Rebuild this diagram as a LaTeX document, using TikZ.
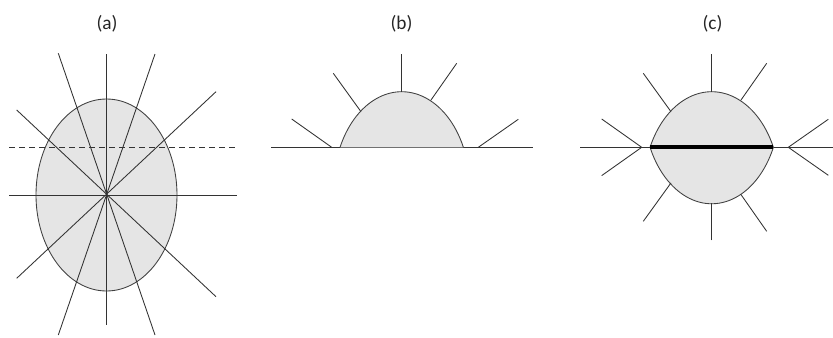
\documentclass[tikz,border=0pt]{standalone}
\usepackage{fontspec}
\setmainfont{Carlito}
\begin{document}
\begin{tikzpicture}[x=0.75pt,y=0.75pt,
  ln/.style={draw=black!80,line width=0.65pt},
  shapefill/.style={fill=black!10,draw=black!75,line width=0.65pt},
  lbl/.style={font=\fontsize{14.5}{17}\selectfont,text=black!85,inner sep=0pt}]
\useasboundingbox (0,0) rectangle (833,337);
% ---------- labels ----------
\node[lbl] (la) at (107,313) {(a)};
\node[lbl] (lb) at (401.5,313) {(b)};
\node[lbl] (lc) at (712.5,313) {(c)};
% ---------- (a) ----------
\coordinate (ca) at (106.5,142);
\path[shapefill] (ca) ellipse[x radius=70.5,y radius=96];
\draw[ln] (9,142) -- (237,142);
\draw[ln] (106.5,283) -- (106.5,12);
\draw[ln,dash pattern=on 4.5pt off 3pt] (9,190) -- (237,190);
\draw[ln] (58.3,283.7) -- (155,2);
\draw[ln] (155,283) -- (58.3,2);
\draw[ln] (16.7,227) -- (216,40.3);
\draw[ln] (216,245.3) -- (16.7,58.7);
% ---------- (b) ----------
\draw[ln] (271,189.7) -- (533.3,189.7);
\path[shapefill] (463.4,189.7) arc[start angle=24.9,end angle=155.1,x radius=68,y radius=96];
\draw[ln] (401.7,282.7) -- (401.7,245.3);
\draw[ln] (333.3,263.7) -- (361,225.3);
\draw[ln] (456.7,273.7) -- (431,237);
\draw[ln] (291.7,218) -- (331.7,189.7);
\draw[ln] (518.3,217.7) -- (478.3,189.7);
% ---------- (c) ----------
\draw[ln] (580,189.7) -- (833,189.7);
\path[shapefill] (773.4,189.7) arc[start angle=24.9,end angle=155.1,x radius=68,y radius=96];
\path[shapefill] (773.4,189.7) arc[start angle=-24.9,end angle=-155.1,x radius=68,y radius=97.5];
\foreach \s in {1,-1}{
  \begin{scope}[shift={(0,189.7)},yscale=\s]
    \draw[ln] (711.7,93) -- (711.7,55.6);
    \draw[ln] (643.3,74) -- (671,35.6);
    \draw[ln] (766.7,84) -- (741,47.3);
    \draw[ln] (601.7,28.3) -- (641.7,0);
    \draw[ln] (828.3,28) -- (788.3,0);
  \end{scope}
}
\draw[line width=3pt,black] (649.5,189.7) -- (773.2,189.7);
\end{tikzpicture}
\end{document}
